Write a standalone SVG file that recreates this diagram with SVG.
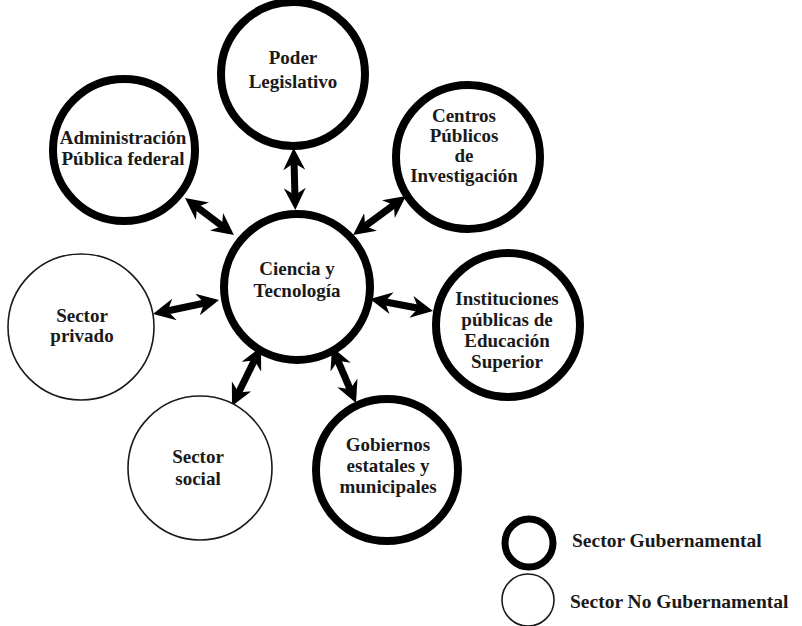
<svg xmlns="http://www.w3.org/2000/svg" width="802" height="626" viewBox="0 0 802 626">
  <style>
    .gov { fill: #ffffff; stroke: #000000; stroke-width: 8; }
    .ngov { fill: #ffffff; stroke: #1a1a1a; stroke-width: 1.6; }
    .lbl { font-family: "Liberation Serif", "DejaVu Serif", serif; font-weight: bold; font-size: 19px; fill: #1a1a1a; text-anchor: middle; }
    .leg { font-family: "Liberation Serif", "DejaVu Serif", serif; font-weight: bold; font-size: 19.5px; fill: #1a1a1a; }
    .arr { stroke: #000000; stroke-width: 7; fill: none; marker-start: url(#ah); marker-end: url(#ah); }
  </style>
  <defs>
    <marker id="ah" viewBox="0 0 22 22" refX="10" refY="11" markerWidth="22" markerHeight="22" markerUnits="userSpaceOnUse" orient="auto-start-reverse">
      <path d="M0,0 L22,11 L0,22 L7,11 z" fill="#000000"/>
    </marker>
  </defs>
  <rect width="802" height="626" fill="#ffffff"/>

  <g id="connectors">
    <line class="arr" x1="294" y1="160" x2="295" y2="198"/>
    <line class="arr" x1="194.6" y1="205.2" x2="224.4" y2="227.8"/>
    <line class="arr" x1="396.3" y1="203.1" x2="362.7" y2="227.9"/>
    <line class="arr" x1="421.2" y1="308.8" x2="381.8" y2="301.2"/>
    <line class="arr" x1="164.7" y1="311.5" x2="207.3" y2="302.5"/>
    <line class="arr" x1="237.3" y1="395.2" x2="255.7" y2="357.8"/>
    <line class="arr" x1="351.3" y1="392" x2="336.7" y2="358"/>
  </g>

  <g id="poder-legislativo">
    <circle class="gov" cx="293" cy="74" r="72"/>
    <text class="lbl" x="293" y="64">Poder</text>
    <text class="lbl" x="293" y="88">Legislativo</text>
  </g>

  <g id="administracion-publica-federal">
    <circle class="gov" cx="124" cy="150" r="71"/>
    <text class="lbl" x="123" y="144">Administración</text>
    <text class="lbl" x="123" y="165">Pública federal</text>
  </g>

  <g id="centros-publicos">
    <circle class="gov" cx="468" cy="157" r="72"/>
    <text class="lbl" x="464" y="122">Centros</text>
    <text class="lbl" x="464" y="142">Públicos</text>
    <text class="lbl" x="464" y="162">de</text>
    <text class="lbl" x="464" y="182">Investigación</text>
  </g>

  <g id="ciencia-tecnologia">
    <circle class="gov" cx="297" cy="287" r="73"/>
    <text class="lbl" x="297" y="275">Ciencia y</text>
    <text class="lbl" x="297" y="297">Tecnología</text>
  </g>

  <g id="instituciones-publicas">
    <circle class="gov" cx="508" cy="325" r="72"/>
    <text class="lbl" x="507" y="305">Instituciones</text>
    <text class="lbl" x="507" y="326">públicas de</text>
    <text class="lbl" x="507" y="347">Educación</text>
    <text class="lbl" x="507" y="368">Superior</text>
  </g>

  <g id="sector-privado">
    <circle class="ngov" cx="81" cy="327" r="73"/>
    <text class="lbl" x="82" y="322">Sector</text>
    <text class="lbl" x="82" y="342">privado</text>
  </g>

  <g id="sector-social">
    <circle class="ngov" cx="200" cy="468" r="72"/>
    <text class="lbl" x="198" y="463">Sector</text>
    <text class="lbl" x="198" y="485">social</text>
  </g>

  <g id="gobiernos-estatales">
    <circle class="gov" cx="387" cy="470" r="71"/>
    <text class="lbl" x="388" y="451">Gobiernos</text>
    <text class="lbl" x="388" y="472">estatales y</text>
    <text class="lbl" x="388" y="493">municipales</text>
  </g>

  <g id="legend">
    <g id="legend-gov">
      <circle cx="529" cy="543" r="24" fill="#ffffff" stroke="#000000" stroke-width="7"/>
      <text class="leg" x="572" y="547">Sector Gubernamental</text>
    </g>
    <g id="legend-ngov">
      <circle cx="528" cy="600" r="26" fill="#ffffff" stroke="#1a1a1a" stroke-width="1.6"/>
      <text class="leg" x="570" y="608">Sector No Gubernamental</text>
    </g>
  </g>
</svg>
